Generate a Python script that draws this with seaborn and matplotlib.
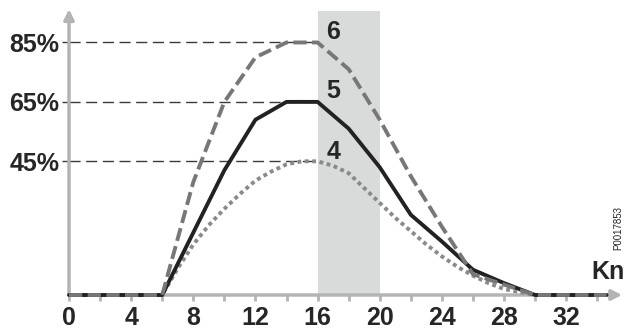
import matplotlib
matplotlib.use('Agg')
import matplotlib.pyplot as plt
import pandas as pd
import seaborn as sns

# Data (share in %, against Kn)
x_56 = [0, 2, 4, 6, 8, 10, 12, 14, 16, 18, 20, 22, 24, 26, 28, 30, 32, 34.6]
curve_6 = [0, 0, 0, 0, 38, 65, 80, 85, 85, 76, 59, 40, 23, 7, 3.5, 0, 0, 0]
curve_5 = [0, 0, 0, 0, 21, 42, 59, 65, 65, 56, 43, 27, 18, 8.5, 4, 0, 0, 0]

x_4 = [0, 6, 7, 8, 9, 10, 11, 12, 13, 14, 15, 16, 17, 18, 19, 20, 21, 22, 23,
       24, 25, 26, 27, 28, 29, 30, 34.6]
curve_4 = [0, 0, 9, 17, 23.5, 29, 34, 38.5, 41.5, 44, 45, 45, 43.5, 41, 36, 31,
           26, 21.5, 17, 13, 9.5, 6.5, 4, 2, 1, 0, 0]

ref_levels = [45, 65, 85]
ref_labels = ['45%', '65%', '85%']
xtick_pos = [0, 4, 8, 12, 16, 20, 24, 28, 32]
band = (16, 20)

sns.set_style('white')
plt.rcParams['font.family'] = ['Liberation Sans', 'DejaVu Sans']

fig = plt.figure(figsize=(6.26, 3.31), dpi=100)
ax = fig.add_axes([69 / 626, 36 / 331, 550 / 626, 287 / 331])
ax.set_xlim(0, 35.4)
ax.set_ylim(0, 96.6)
for s in ax.spines.values():
    s.set_visible(False)

axis_grey = '#b4b4b4'
text_col = '#262626'

# shaded band
ax.axvspan(band[0], band[1], ymin=0, ymax=95.5 / 96.6, color='#d9dada', lw=0, zorder=0)

# reference lines
for lvl in ref_levels:
    ax.plot([0, 16], [lvl, lvl], color='#3a3a3a', lw=1, linestyle=(0, (8, 4)), zorder=1)

# axes with arrows
ax.annotate('', xy=(35.6, 0), xytext=(0, 0), annotation_clip=False,
            arrowprops=dict(arrowstyle='-|>,head_length=0.6,head_width=0.3',
                            color=axis_grey, lw=2.5, shrinkA=0, shrinkB=0), zorder=1)
ax.annotate('', xy=(0, 96.2), xytext=(0, 0), annotation_clip=False,
            arrowprops=dict(arrowstyle='-|>,head_length=0.6,head_width=0.3',
                            color=axis_grey, lw=2.5, shrinkA=0, shrinkB=0), zorder=1)

df56 = pd.DataFrame({'Kn': x_56, 'c6': curve_6, 'c5': curve_5})
df4 = pd.DataFrame({'Kn': x_4, 'c4': curve_4})

sns.lineplot(data=df4, x='Kn', y='c4', ax=ax, color='#8a8a8a', lw=2.8,
             linestyle=(0, (1, 0.9)), dash_capstyle='butt', clip_on=False, zorder=3)
sns.lineplot(data=df56, x='Kn', y='c5', ax=ax, color='#222222', lw=2.8,
             clip_on=False, zorder=4)
sns.lineplot(data=df56, x='Kn', y='c6', ax=ax, color='#777777', lw=2.8,
             linestyle=(0, (3.4, 1.4)), dash_capstyle='butt', clip_on=False, zorder=5)

# curve labels
for lab, yv in zip(['6', '5', '4'], [88.5, 68.8, 48]):
    ax.text(17.0, yv, lab, ha='center', va='center', fontsize=18,
            fontweight='bold', color=text_col, zorder=6)

# ticks
ax.set_xticks(xtick_pos)
ax.set_xticklabels([str(v) for v in xtick_pos])
ax.set_xticks(range(2, 35, 2), minor=True)
ax.tick_params(axis='x', which='both', bottom=True, direction='out', length=4,
               width=2, color=axis_grey, pad=4)
ax.tick_params(axis='x', which='major', labelsize=18, labelcolor=text_col)
ax.set_yticks(ref_levels)
ax.set_yticklabels(ref_labels)
ax.tick_params(axis='y', left=True, direction='out', length=5, width=1,
               color='#3a3a3a', labelsize=18, labelcolor=text_col, pad=2)
for t in ax.get_xticklabels() + ax.get_yticklabels():
    t.set_fontweight('bold')
ax.set_xlabel('')
ax.set_ylabel('')

fig.text(608 / 626, 1 - 272 / 331, 'Kn', ha='center', va='center', fontsize=18,
         fontweight='bold', color=text_col)
fig.text(618 / 626, 1 - 228 / 331, 'P0017853', ha='center', va='center',
         fontsize=7, rotation=90, color=text_col)

fig.savefig('out.png', dpi=100)
